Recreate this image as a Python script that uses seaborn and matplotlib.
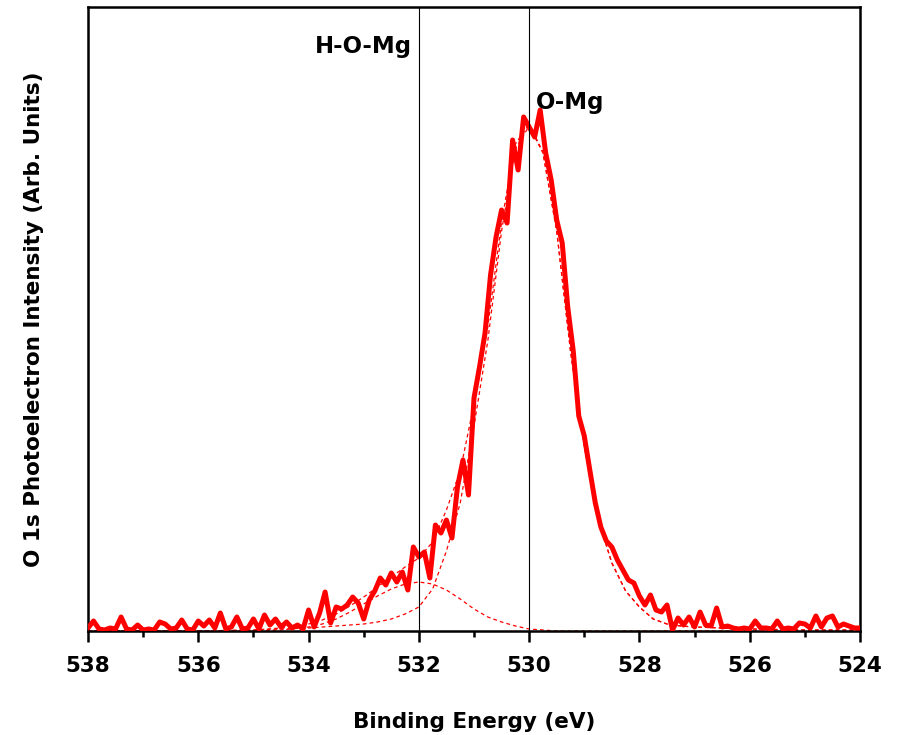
import numpy as np
import pandas as pd
import matplotlib
matplotlib.use("Agg")
import matplotlib.pyplot as plt
from matplotlib.ticker import MultipleLocator
import seaborn as sns

# ---- data (O 1s spectrum, arbitrary units) ----
energy = np.round(np.linspace(538.0, 524.0, 141), 2)
intensity = [
    3, 10, 2, 1, 3, 2, 14, 2, 1, 6,          # 538.0 - 537.1
    1, 2, 1, 9, 7, 2, 3, 11, 2, 1,           # 537.0 - 536.1
    10, 5, 11, 3, 18, 2, 4, 14, 2, 3,        # 536.0 - 535.1
    12, 2, 16, 6, 12, 4, 9, 3, 6, 2,         # 535.0 - 534.1
    21, 4, 18, 39, 8, 24, 22, 26, 34, 28,    # 534.0 - 533.1
    12, 31, 40, 53, 46, 58, 49, 59, 41, 84,  # 533.0 - 532.1
    74, 79, 53, 106, 98, 111, 93, 144, 171, 136,   # 532.0 - 531.1
    233, 264, 298, 356, 394, 421, 408, 491, 461, 514,  # 531.0 - 530.1
    504, 494, 521, 478, 451, 411, 388, 324, 280, 215,  # 530.0 - 529.1
    195, 161, 128, 104, 90, 84, 71, 61, 51, 48,    # 529.0 - 528.1
    35, 26, 36, 21, 19, 26, 1, 13, 6, 14,    # 528.0 - 527.1
    4, 19, 6, 5, 23, 4, 5, 3, 2, 3,          # 527.0 - 526.1
    2, 10, 3, 3, 2, 10, 2, 3, 2, 8,          # 526.0 - 525.1
    7, 3, 15, 4, 13, 15, 4, 7, 5, 3,         # 525.0 - 524.1
    3,                                       # 524.0
]

# fitted components
fit_energy = [538.0, 537.0, 536.0, 535.0, 534.5, 534.0, 533.75, 533.5, 533.25,
              533.0, 532.75, 532.5, 532.25, 532.0, 531.75, 531.5, 531.25,
              531.0, 530.75, 530.5, 530.25, 530.0, 529.75, 529.5, 529.25,
              529.0, 528.75, 528.5, 528.25, 528.0, 527.75, 527.5, 527.25,
              527.0, 526.5, 526.0, 525.0, 524.0]
comp_hom = [0, 0, 0, 0, 1, 4, 7, 12, 19,
            27, 35, 42, 47, 49, 47, 41, 32,
            22, 14, 9, 5, 2, 1, 0, 0,
            0, 0, 0, 0, 0, 0, 0, 0,
            0, 0, 0, 0, 0]
comp_om = [0, 0, 0, 1, 2, 3, 4, 5, 6,
           7, 9, 12, 17, 24, 42, 80, 128,
           205, 290, 400, 482, 505, 478, 400, 280,
           185, 112, 68, 40, 24, 12, 7, 5,
           4, 3, 2, 1, 1]

peak_lines = [532.0, 530.0]
peak_labels = ["H-O-Mg", "O-Mg"]

# ---- figure ----
sns.set_style("white")
plt.rcParams["font.family"] = ["DejaVu Sans"]
plt.rcParams["font.weight"] = "bold"
plt.rcParams["text.color"] = "black"
plt.rcParams["axes.labelcolor"] = "black"
plt.rcParams["xtick.color"] = "black"
plt.rcParams["ytick.color"] = "black"

fig = plt.figure(figsize=(8.99, 7.35), dpi=100)
ax = fig.add_axes([88 / 899, 104 / 735, (860 - 88) / 899, (631 - 7) / 735])

df = pd.DataFrame({"energy": energy, "intensity": intensity})
fit = pd.DataFrame({"energy": fit_energy, "hom": comp_hom, "om": comp_om})
fit["envelope"] = fit["hom"] + fit["om"]

dash = (3, 2.5)
for col in ["hom", "om", "envelope"]:
    sns.lineplot(data=fit, x="energy", y=col, ax=ax, color="#ff0000",
                 linewidth=0.9, zorder=2).lines[-1].set_dashes(dash)

sns.lineplot(data=df, x="energy", y="intensity", ax=ax, color="#ff0000",
             linewidth=3.6, zorder=3)

for xv in peak_lines:
    ax.axvline(xv, color="black", linewidth=0.8, zorder=4)

ax.text(532.13, 584, peak_labels[0], ha="right", va="center",
        fontsize=16.5, fontweight="bold", color="black")
ax.text(529.88, 529, peak_labels[1], ha="left", va="center",
        fontsize=16.5, fontweight="bold", color="black")

ax.set_xlim(538, 524)
ax.set_ylim(0, 624)
ax.xaxis.set_major_locator(MultipleLocator(2))
ax.xaxis.set_minor_locator(MultipleLocator(1))
ax.set_yticks([])
ax.tick_params(axis="x", which="major", direction="out", length=8, width=1.8,
               labelsize=15.5, pad=10, bottom=True, colors="black")
ax.tick_params(axis="x", which="minor", direction="out", length=4, width=1.8,
               bottom=True, colors="black")
for lab in ax.get_xticklabels():
    lab.set_fontweight("bold")

for s in ax.spines.values():
    s.set_visible(True)
    s.set_color("black")
    s.set_linewidth(1.8)

ax.set_xlabel("Binding Energy (eV)", fontsize=15.5, fontweight="bold",
              labelpad=26, color="black")
ax.set_ylabel("O 1s Photoelectron Intensity (Arb. Units)", fontsize=15.5,
              fontweight="bold", labelpad=32, color="black")

fig.savefig("out.png", dpi=100, facecolor="white")
